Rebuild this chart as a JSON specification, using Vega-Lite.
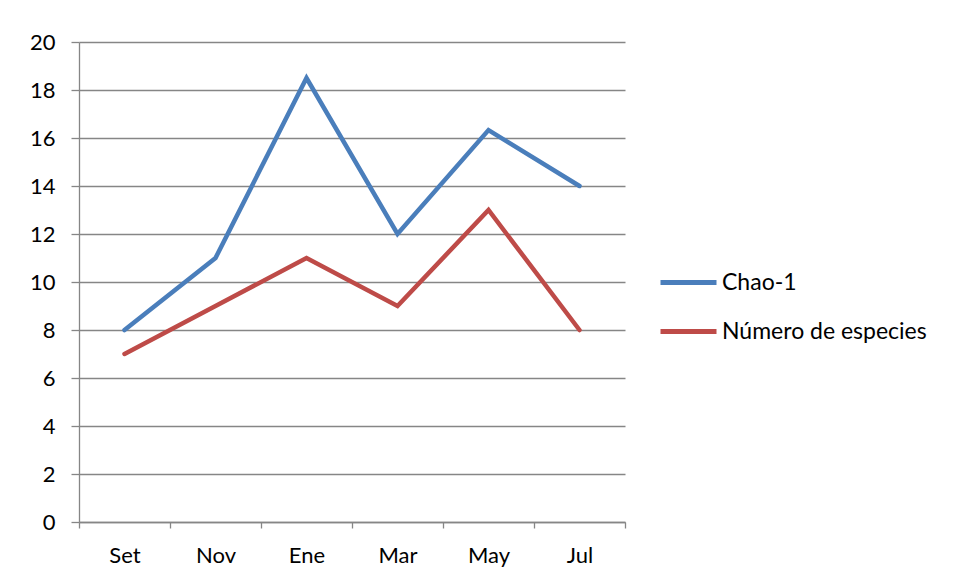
{
  "$schema": "https://vega.github.io/schema/vega-lite/v6.json",
  "autosize": "none",
  "width": 546,
  "height": 480,
  "padding": {"left": 79, "top": 42, "right": 334, "bottom": 59},
  "background": "white",
  "data": {
    "values": [
      {"mes": "Set", "serie": "Chao-1", "valor": 8},
      {"mes": "Nov", "serie": "Chao-1", "valor": 11},
      {"mes": "Ene", "serie": "Chao-1", "valor": 18.5},
      {"mes": "Mar", "serie": "Chao-1", "valor": 12},
      {"mes": "May", "serie": "Chao-1", "valor": 16.33},
      {"mes": "Jul", "serie": "Chao-1", "valor": 14},
      {"mes": "Set", "serie": "Número de especies", "valor": 7},
      {"mes": "Nov", "serie": "Número de especies", "valor": 9},
      {"mes": "Ene", "serie": "Número de especies", "valor": 11},
      {"mes": "Mar", "serie": "Número de especies", "valor": 9},
      {"mes": "May", "serie": "Número de especies", "valor": 13},
      {"mes": "Jul", "serie": "Número de especies", "valor": 8}
    ]
  },
  "mark": {"type": "line", "strokeWidth": 4.5, "strokeJoin": "miter", "strokeCap": "round"},
  "encoding": {
    "x": {
      "field": "mes",
      "type": "ordinal",
      "sort": ["Set", "Nov", "Ene", "Mar", "May", "Jul"],
      "scale": {"type": "band", "paddingInner": 0, "paddingOuter": 0},
      "axis": {
        "title": null,
        "labelAngle": 0,
        "tickBand": "extent",
        "tickSize": 6,
        "labelPadding": 17,
        "grid": false
      }
    },
    "y": {
      "field": "valor",
      "type": "quantitative",
      "scale": {"domain": [0, 20], "nice": false},
      "axis": {
        "title": null,
        "values": [0, 2, 4, 6, 8, 10, 12, 14, 16, 18, 20],
        "tickSize": 8,
        "labelPadding": 16,
        "grid": true
      }
    },
    "color": {
      "field": "serie",
      "type": "nominal",
      "scale": {
        "domain": ["Chao-1", "Número de especies"],
        "range": ["#4a7ebb", "#be4b48"]
      },
      "legend": {
        "title": null,
        "orient": "none",
        "legendX": 579,
        "legendY": 210,
        "symbolType": "stroke",
        "symbolSize": 3136,
        "symbolStrokeWidth": 5,
        "rowPadding": 6,
        "labelOffset": 3
      }
    }
  },
  "config": {
    "view": {"stroke": null},
    "font": "Lato",
    "axis": {
      "domainColor": "#868686",
      "tickColor": "#868686",
      "gridColor": "#868686",
      "gridWidth": 1.3,
      "domainWidth": 1.3,
      "tickWidth": 1.3,
      "labelFont": "Lato",
      "labelFontSize": 22,
      "labelColor": "#000000"
    },
    "legend": {
      "labelFont": "Lato",
      "labelFontSize": 23,
      "labelColor": "#000000",
      "labelLimit": 400
    }
  }
}
